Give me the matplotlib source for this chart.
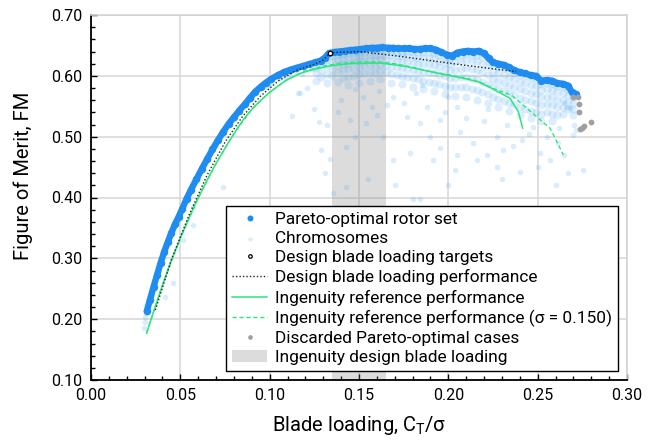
import matplotlib
matplotlib.use('Agg')
import matplotlib.pyplot as plt
from matplotlib.ticker import MultipleLocator

plt.rcParams['font.family'] = ['Roboto', 'DejaVu Sans']
plt.rcParams['mathtext.fontset'] = 'custom'
plt.rcParams['mathtext.rm'] = 'Roboto'

# ---------------- data ----------------
pareto_x = [0.0312, 0.0330, 0.0350, 0.0370, 0.0390, 0.0410, 0.0430, 0.0450, 0.0470, 0.0490,
            0.0510, 0.0535, 0.0560, 0.0590, 0.0620, 0.0650, 0.0680, 0.0710, 0.0740, 0.0770,
            0.0800, 0.0830, 0.0860, 0.0890, 0.0920, 0.0950, 0.0980, 0.1010, 0.1045, 0.1080,
            0.1115, 0.1150, 0.1185, 0.1220, 0.1255, 0.1285, 0.1310, 0.1330, 0.1360, 0.1390,
            0.1420, 0.1450, 0.1480, 0.1510, 0.1540, 0.1570, 0.1600, 0.1630, 0.1660, 0.1690,
            0.1720, 0.1750, 0.1780, 0.1810, 0.1840, 0.1870, 0.1900, 0.1930, 0.1960, 0.1990,
            0.2020, 0.2050, 0.2080, 0.2110, 0.2140, 0.2170, 0.2200, 0.2225, 0.2250, 0.2280,
            0.2310, 0.2340, 0.2370, 0.2400, 0.2430, 0.2460, 0.2490, 0.2520, 0.2550, 0.2580,
            0.2610, 0.2640, 0.2670, 0.2690, 0.2715]
pareto_y = [0.213, 0.232, 0.253, 0.273, 0.293, 0.311, 0.327, 0.342, 0.356, 0.368,
            0.381, 0.398, 0.413, 0.430, 0.447, 0.463, 0.479, 0.494, 0.508, 0.521,
            0.532, 0.543, 0.553, 0.564, 0.574, 0.582, 0.589, 0.595, 0.601, 0.606,
            0.610, 0.613, 0.616, 0.619, 0.622, 0.625, 0.630, 0.637, 0.639, 0.640,
            0.641, 0.642, 0.643, 0.644, 0.645, 0.646, 0.646, 0.647, 0.646, 0.646,
            0.645, 0.645, 0.645, 0.644, 0.644, 0.645, 0.645, 0.643, 0.639, 0.635,
            0.633, 0.638, 0.640, 0.641, 0.640, 0.641, 0.637, 0.629, 0.622, 0.620,
            0.618, 0.614, 0.609, 0.606, 0.604, 0.601, 0.600, 0.592, 0.593, 0.592,
            0.588, 0.587, 0.584, 0.574, 0.570]

# chromosomes: dense band just below the front (column x, FM values)
band_x = [0.126, 0.129, 0.132, 0.135, 0.138, 0.141, 0.144, 0.147, 0.150, 0.153,
          0.156, 0.159, 0.162, 0.165, 0.168, 0.171, 0.174, 0.177, 0.180, 0.183,
          0.186, 0.189, 0.192, 0.195, 0.198, 0.201, 0.204, 0.207, 0.210, 0.213,
          0.216, 0.219, 0.222, 0.225, 0.228, 0.231, 0.234, 0.237, 0.240, 0.243,
          0.246, 0.249, 0.252, 0.255, 0.258, 0.261, 0.264, 0.267, 0.270]
band_y = [[0.615, 0.605, 0.592], [0.620, 0.610, 0.598], [0.626, 0.616, 0.603, 0.588],
          [0.633, 0.624, 0.612, 0.600], [0.634, 0.626, 0.617, 0.606, 0.590],
          [0.636, 0.628, 0.619, 0.609, 0.596], [0.637, 0.629, 0.620, 0.611, 0.598, 0.585],
          [0.638, 0.631, 0.622, 0.612, 0.600], [0.639, 0.632, 0.624, 0.614, 0.603, 0.588],
          [0.640, 0.633, 0.625, 0.616, 0.605], [0.641, 0.634, 0.626, 0.617, 0.607, 0.592],
          [0.641, 0.634, 0.626, 0.616, 0.604], [0.642, 0.635, 0.627, 0.618, 0.608, 0.594],
          [0.641, 0.634, 0.626, 0.617, 0.606], [0.641, 0.634, 0.625, 0.615, 0.603, 0.589],
          [0.640, 0.633, 0.624, 0.614, 0.602], [0.640, 0.632, 0.623, 0.613, 0.600, 0.586],
          [0.640, 0.632, 0.622, 0.611, 0.598], [0.639, 0.631, 0.621, 0.610, 0.596, 0.582],
          [0.639, 0.630, 0.620, 0.608, 0.594], [0.640, 0.631, 0.620, 0.607, 0.592, 0.578],
          [0.640, 0.630, 0.619, 0.606, 0.590], [0.638, 0.629, 0.617, 0.604, 0.588, 0.575],
          [0.634, 0.625, 0.614, 0.601, 0.586], [0.630, 0.621, 0.611, 0.599, 0.584, 0.570],
          [0.629, 0.620, 0.609, 0.596, 0.581], [0.632, 0.622, 0.610, 0.597, 0.582, 0.567],
          [0.635, 0.625, 0.612, 0.598, 0.582], [0.636, 0.626, 0.613, 0.598, 0.581, 0.565],
          [0.635, 0.625, 0.612, 0.596, 0.579], [0.635, 0.624, 0.610, 0.594, 0.577, 0.560],
          [0.631, 0.620, 0.606, 0.590, 0.573], [0.624, 0.614, 0.601, 0.586, 0.570, 0.555],
          [0.617, 0.607, 0.595, 0.581, 0.566], [0.615, 0.604, 0.592, 0.578, 0.562, 0.548],
          [0.613, 0.602, 0.589, 0.575, 0.559], [0.609, 0.598, 0.585, 0.571, 0.556, 0.542],
          [0.604, 0.594, 0.582, 0.568, 0.553], [0.601, 0.590, 0.578, 0.564, 0.549, 0.536],
          [0.599, 0.588, 0.575, 0.561, 0.546], [0.596, 0.585, 0.572, 0.558, 0.543, 0.530],
          [0.594, 0.583, 0.570, 0.556, 0.541], [0.587, 0.577, 0.565, 0.552, 0.538, 0.526],
          [0.588, 0.578, 0.566, 0.553, 0.540], [0.587, 0.577, 0.565, 0.552, 0.538, 0.525],
          [0.583, 0.573, 0.561, 0.549, 0.536], [0.582, 0.572, 0.561, 0.549, 0.537],
          [0.578, 0.568, 0.557, 0.546], [0.565, 0.555, 0.545, 0.535]]

# chromosomes: scattered individual cases
chrom_x = [0.0295, 0.0300, 0.0305, 0.0310, 0.0340, 0.0380, 0.0480, 0.0600, 0.0700, 0.0800,
           0.0900, 0.0980, 0.1050, 0.1100, 0.1150, 0.1200, 0.1240, 0.1000, 0.1080, 0.1180,
           0.117, 0.1276, 0.1123, 0.1338, 0.129, 0.131, 0.143, 0.148, 0.154, 0.157,
           0.148, 0.1655, 0.169, 0.182, 0.1767, 0.184, 0.1916, 0.2037, 0.1953, 0.2065,
           0.214, 0.216, 0.2215, 0.227, 0.2308, 0.240, 0.241, 0.2476, 0.2513, 0.2569,
           0.2616, 0.2672, 0.270, 0.2755, 0.227, 0.1953, 0.2047, 0.1636, 0.169, 0.1785,
           0.1804, 0.184, 0.1356, 0.143, 0.116, 0.132, 0.074, 0.0573, 0.0414, 0.046,
           0.057, 0.0517, 0.140, 0.152, 0.161, 0.175, 0.188, 0.198, 0.210, 0.220,
           0.233, 0.245, 0.255, 0.262, 0.236, 0.222, 0.200, 0.185, 0.138, 0.145,
           0.125, 0.121, 0.160, 0.190, 0.205, 0.250, 0.265, 0.155, 0.170, 0.200,
           0.230, 0.260, 0.268, 0.2716, 0.2705, 0.265, 0.2665]
chrom_y = [0.185, 0.195, 0.203, 0.210, 0.240, 0.280, 0.360, 0.430, 0.485, 0.528,
           0.562, 0.582, 0.595, 0.602, 0.606, 0.611, 0.612, 0.586, 0.596, 0.603,
           0.571, 0.5235, 0.534, 0.463, 0.478, 0.440, 0.483, 0.500, 0.522, 0.549,
           0.579, 0.552, 0.566, 0.571, 0.533, 0.522, 0.4615, 0.445, 0.481, 0.508,
           0.489, 0.4615, 0.470, 0.4505, 0.478, 0.4423, 0.4944, 0.5163, 0.4725, 0.4615,
           0.489, 0.4396, 0.5026, 0.445, 0.500, 0.527, 0.549, 0.500, 0.4615, 0.4725,
           0.398, 0.398, 0.4067, 0.4176, 0.571, 0.519, 0.418, 0.385, 0.237, 0.259,
           0.3546, 0.330, 0.560, 0.565, 0.575, 0.556, 0.548, 0.540, 0.530, 0.525,
           0.520, 0.505, 0.500, 0.515, 0.485, 0.545, 0.565, 0.585, 0.540, 0.527,
           0.545, 0.580, 0.535, 0.500, 0.470, 0.450, 0.470, 0.430, 0.420, 0.420,
           0.430, 0.420, 0.547, 0.511, 0.520, 0.555, 0.548]

target_x = [0.134]
target_y = [0.638]

design_x = [0.0360, 0.0450, 0.0550, 0.0650, 0.0750, 0.0850, 0.0950, 0.1050, 0.1150, 0.1250,
            0.1300, 0.1340, 0.1500, 0.1730, 0.2000, 0.2290, 0.2380]
design_y = [0.215, 0.298, 0.372, 0.437, 0.491, 0.534, 0.567, 0.592, 0.609, 0.619,
            0.626, 0.638, 0.640, 0.632, 0.621, 0.610, 0.607]

ref_x = [0.0311, 0.034, 0.037, 0.040, 0.043, 0.046, 0.049, 0.052, 0.055, 0.058,
         0.061, 0.064, 0.067, 0.070, 0.073, 0.076, 0.079, 0.082, 0.085, 0.088,
         0.091, 0.094, 0.097, 0.100, 0.105, 0.110, 0.117, 0.125, 0.135, 0.145,
         0.155, 0.162, 0.170, 0.177, 0.185, 0.193, 0.200, 0.2085, 0.2168, 0.2233,
         0.2290, 0.2345, 0.2392, 0.2416]
ref_y = [0.177, 0.203, 0.230, 0.256, 0.281, 0.304, 0.326, 0.347, 0.367, 0.387,
         0.405, 0.423, 0.440, 0.456, 0.471, 0.486, 0.500, 0.514, 0.527, 0.538,
         0.548, 0.557, 0.565, 0.573, 0.584, 0.594, 0.604, 0.611, 0.617, 0.620,
         0.621, 0.621, 0.618, 0.615, 0.610, 0.605, 0.601, 0.596, 0.590, 0.581,
         0.572, 0.563, 0.541, 0.514]

ref150_x = [0.0311, 0.040, 0.050, 0.060, 0.070, 0.080, 0.090, 0.100, 0.110, 0.120,
            0.130, 0.140, 0.150, 0.160, 0.170, 0.180, 0.190, 0.200, 0.2085, 0.2177,
            0.2252, 0.2355, 0.2570, 0.2644]
ref150_y = [0.177, 0.256, 0.333, 0.399, 0.456, 0.505, 0.545, 0.573, 0.594, 0.608,
            0.616, 0.621, 0.623, 0.623, 0.620, 0.614, 0.607, 0.602, 0.597, 0.590,
            0.579, 0.568, 0.5136, 0.470]

discard_x = [0.2695, 0.2727, 0.2730, 0.2730, 0.2737, 0.2750, 0.2760, 0.2800]
discard_y = [0.566, 0.565, 0.553, 0.541, 0.5125, 0.515, 0.5175, 0.5235]

design_band = [0.135, 0.165]

# ---------------- figure ----------------
fig = plt.figure(figsize=(6.57, 4.41), dpi=100)
ax = fig.add_axes([91/657, 61/441, 536/657, 365/441])

pareto_c = '#1e8cf0'
chrom_c = '#4aa8f5'
green = '#2de67a'

bx, by = [], []
for xv, ys in zip(band_x, band_y):
    for yv in ys:
        bx.append(xv)
        by.append(yv)

ax.scatter(bx, by, s=34, color=chrom_c, alpha=0.19, linewidths=0, zorder=2)
ax.scatter(chrom_x, chrom_y, s=16, color=chrom_c, alpha=0.2, linewidths=0, zorder=2,
           label='Chromosomes')
ax.axvspan(design_band[0], design_band[1], color='#808080', alpha=0.27, linewidth=0,
           zorder=1.5, label='Ingenuity design blade loading')

ax.plot(ref_x, ref_y, '-', color=green, lw=1.1, zorder=3,
        label='Ingenuity reference performance')
ax.plot(ref150_x, ref150_y, '--', color=green, lw=1.0, dashes=(3, 2), zorder=3,
        label='Ingenuity reference performance (σ = 0.150)')

ax.plot(pareto_x, pareto_y, '-', color=pareto_c, lw=4.6, zorder=4, solid_capstyle='round')
ax.plot(pareto_x, pareto_y, 'o', color=pareto_c, ms=5.4, mew=0, zorder=4,
        label='Pareto-optimal rotor set')

ax.plot(design_x, design_y, linestyle=(0, (1, 1.5)), color='#222222', lw=1.0, zorder=5,
        label='Design blade loading performance')
ax.plot(target_x, target_y, 'o', ms=3.2, mfc='white', mec='black', mew=0.9, zorder=6,
        linestyle='none', label='Design blade loading targets')
ax.plot(discard_x, discard_y, 'o', ms=4.2, color='#a0a0a0', mew=0, zorder=5,
        linestyle='none', label='Discarded Pareto-optimal cases')

ax.set_xlim(0.0, 0.30)
ax.set_ylim(0.10, 0.70)
ax.xaxis.set_major_locator(MultipleLocator(0.05))
ax.xaxis.set_minor_locator(MultipleLocator(0.01))
ax.yaxis.set_major_locator(MultipleLocator(0.10))
ax.yaxis.set_minor_locator(MultipleLocator(0.02))
ax.xaxis.set_major_formatter(plt.FormatStrFormatter('%.2f'))
ax.yaxis.set_major_formatter(plt.FormatStrFormatter('%.2f'))

ax.grid(True, which='major', color='#d9d9d9', lw=1.2, zorder=0)
ax.set_axisbelow(True)
for s in ['top', 'right']:
    ax.spines[s].set_color('#d4d4d4')
    ax.spines[s].set_linewidth(1.2)
for s in ['left', 'bottom']:
    ax.spines[s].set_color('black')
    ax.spines[s].set_linewidth(1.3)
ax.tick_params(which='both', direction='in', top=False, right=False, labelsize=11.5,
               colors='black')
ax.tick_params(which='major', length=4, width=1.0, pad=6)
ax.tick_params(which='minor', length=3, width=1.0)

ax.set_xlabel('Blade loading, $\\mathregular{C_T}$/σ', fontsize=14.5, labelpad=8)
ax.set_ylabel('Figure of Merit, FM', fontsize=14.5)
ax.yaxis.set_label_coords(-0.108, 0.56)

h, l = ax.get_legend_handles_labels()
order = ['Pareto-optimal rotor set', 'Chromosomes', 'Design blade loading targets',
         'Design blade loading performance', 'Ingenuity reference performance',
         'Ingenuity reference performance (σ = 0.150)', 'Discarded Pareto-optimal cases',
         'Ingenuity design blade loading']
hd = dict(zip(l, h))
leg = ax.legend([hd[k] for k in order], order, loc='lower right', fontsize=12.4,
                frameon=True, fancybox=False, framealpha=1, edgecolor='black',
                labelspacing=0.24, handlelength=2.0, handletextpad=0.5,
                borderpad=0.35, borderaxespad=0.5, markerscale=0.8)
leg.get_frame().set_linewidth(1.0)

fig.savefig('out.png', dpi=100)
